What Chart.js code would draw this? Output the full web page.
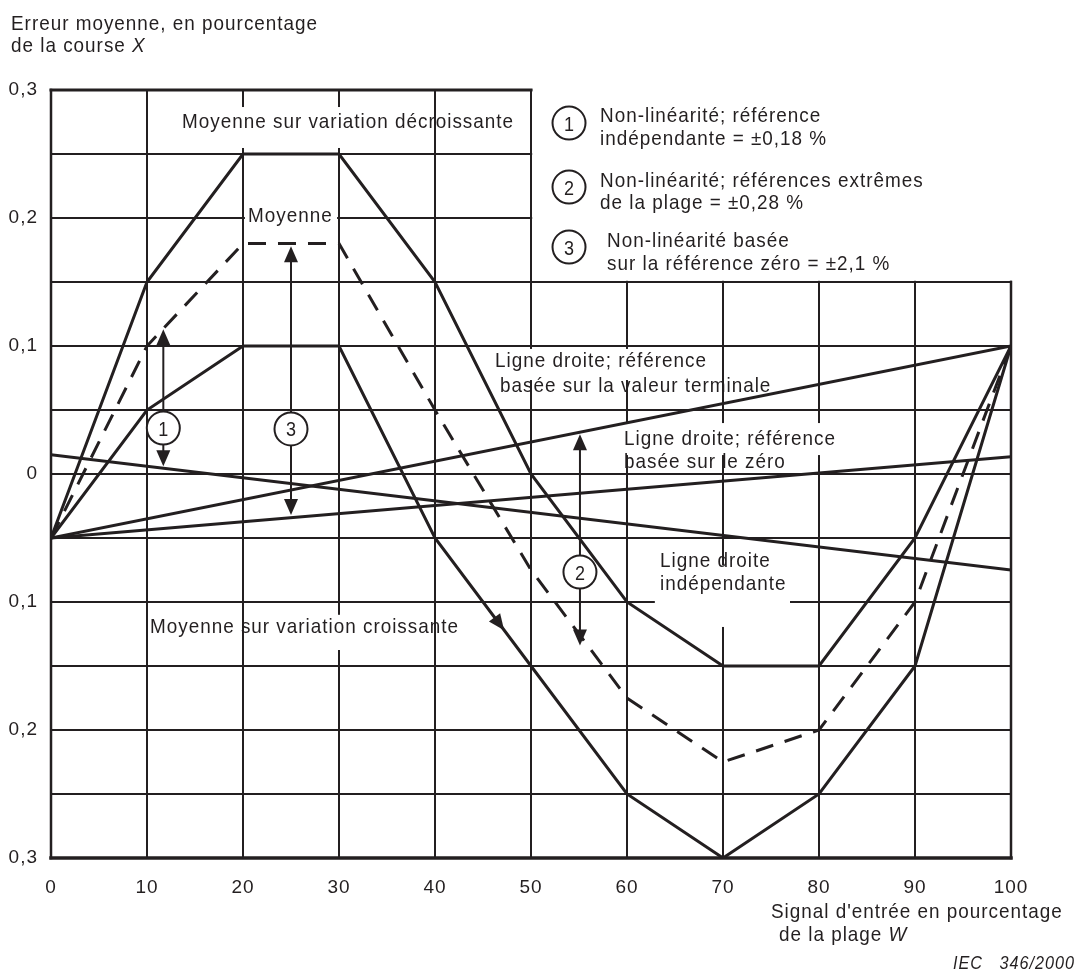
<!DOCTYPE html>
<html><head><meta charset="utf-8">
<script src="https://cdn.jsdelivr.net/npm/chart.js@4.4.1/dist/chart.umd.min.js"></script>
<style>html,body{margin:0;padding:0;background:#fff}canvas{display:block}</style>
</head><body>
<canvas id="c" width="1079" height="979"></canvas>
<script>
// ---- data ----
const xValues = [0, 10, 20, 30, 40, 50, 60, 70, 80, 90, 100];
const decreasing = [-0.05, 0.15, 0.25, 0.25, 0.15, 0, -0.1, -0.15, -0.15, -0.05, 0.1];
const increasing = [-0.05, 0.05, 0.1, 0.1, -0.05, -0.15, -0.25, -0.3, -0.25, -0.15, 0.1];
const mean = [-0.05, 0.1, 0.18, 0.18, 0.05, -0.075, -0.175, -0.225, -0.2, -0.1, 0.1];
const refX = [0, 100];
const terminalRef = [-0.05, 0.1];
const zeroRef = [-0.05, 0.0135];
const independentRef = [0.015, -0.075];
const xTickLabels = ['0', '10', '20', '30', '40', '50', '60', '70', '80', '90', '100'];
const yTickLabels = ['0,3', '', '0,2', '', '0,1', '', '0', '', '0,1', '', '0,2', '', '0,3'];

// ---- styling / annotation config ----
const INK = '#231f20';
const FAM = '"Liberation Sans", Arial, sans-serif';
const fnt = (s, it) => (it ? 'italic ' : '') + s + 'px ' + FAM;
const SX = 0.9;      // horizontal squeeze of annotation text
const TSIZE = 21;    // annotation text size

const pts = (xs, ys) => xs.map((x, i) => ({x: x, y: ys[i]}));

// areas (data units) where the grid is interrupted behind labels: [x0, x1, yTop, yBottom]
const maskBoxes = [
  [12.9, 39.0, 0.2867, 0.2547],
  [20.2, 29.8, 0.2156, 0.1859],
  [45.7, 68.85, 0.0977, 0.0734],
  [59.3, 82.2, 0.0398, 0.0148],
  [62.9, 76.98, -0.0711, -0.1195],
  [25.9, 38.96, -0.110, -0.1375]
];
// in-plot labels: text, x, y (left / baseline, data units)
const plotLabels = [
  ['Moyenne sur variation décroissante', 13.65, 0.2703],
  ['Moyenne', 20.52, 0.1969],
  ['Ligne droite; référence', 46.25, 0.0836],
  ['basée sur la valeur terminale', 46.77, 0.0641],
  ['Ligne droite; référence', 59.69, 0.0227],
  ['basée sur le zéro', 59.69, 0.0047],
  ['Ligne droite', 63.44, -0.0727],
  ['indépendante', 63.44, -0.0906],
  ['Moyenne sur variation croissante', 10.31, -0.1242],
  ['Non-linéarité; référence', 57.19, 0.2752],
  ['indépendante = ±0,18 %', 57.19, 0.2570],
  ['Non-linéarité; références extrêmes', 57.19, 0.2245],
  ['de la plage = ±0,28 %', 57.19, 0.2070],
  ['Non-linéarité basée', 57.92, 0.1776],
  ['sur la référence zéro = ±2,1 %', 57.92, 0.1594]
];
const legendCircles = [['1', 53.96, 0.2742], ['2', 53.96, 0.2242], ['3', 53.96, 0.1773]];
// double arrows: label, x, top tip, bottom tip, circle y
const arrows = [
  ['1', 11.7, 0.113, 0.006, 0.0359],
  ['3', 25.0, 0.178, -0.032, 0.0352],
  ['2', 55.1, 0.031, -0.134, -0.0766]
];
const dirArrowX = 47.2; // arrowhead on the increasing curve

function txt(ctx, s, px, py, size, italic, align) {
  ctx.save();
  ctx.translate(px, py);
  ctx.scale(SX, 1);
  ctx.font = fnt(size, italic);
  ctx.letterSpacing = '1.1px';
  ctx.textAlign = align || 'left';
  ctx.textBaseline = 'alphabetic';
  ctx.fillText(s, 0, 0);
  const w = ctx.measureText(s).width * SX;
  ctx.restore();
  return w;
}
function head(ctx, tx, ty, dx, dy) {
  const L = 16, W = 7;
  const bx = tx - dx * L, by = ty - dy * L;
  ctx.beginPath();
  ctx.moveTo(tx, ty);
  ctx.lineTo(bx - dy * W, by + dx * W);
  ctx.lineTo(bx + dy * W, by - dx * W);
  ctx.closePath();
  ctx.fill();
}
function circleNum(ctx, cx, cy, t) {
  ctx.beginPath();
  ctx.arc(cx, cy, 16.5, 0, Math.PI * 2);
  ctx.fillStyle = '#fff';
  ctx.fill();
  ctx.lineWidth = 2;
  ctx.strokeStyle = INK;
  ctx.stroke();
  ctx.fillStyle = INK;
  txt(ctx, t, cx + 0.5, cy + 7.5, 20, false, 'center');
}

const annot = {
  id: 'annot',
  beforeDraw(chart) { chart.ctx.letterSpacing = '1px'; },
  beforeDatasetsDraw(chart) {
    const {ctx, scales: {x, y}} = chart;
    ctx.save();
    ctx.fillStyle = '#fff';
    const x50 = x.getPixelForValue(50), y15 = y.getPixelForValue(0.15);
    ctx.fillRect(x50 + 1.2, 0, chart.width, y15 - 1.2);
    maskBoxes.forEach(b => {
      const px0 = x.getPixelForValue(b[0]), px1 = x.getPixelForValue(b[1]);
      const py0 = y.getPixelForValue(b[2]), py1 = y.getPixelForValue(b[3]);
      ctx.fillRect(px0, py0, px1 - px0, py1 - py0);
    });
    ctx.strokeStyle = INK;
    const L = x.getPixelForValue(0), R = x.getPixelForValue(100);
    const T = y.getPixelForValue(0.3), B = y.getPixelForValue(-0.3);
    ctx.lineCap = 'square';
    ctx.lineWidth = 3;
    ctx.beginPath(); ctx.moveTo(L, T); ctx.lineTo(x50, T); ctx.stroke();
    ctx.lineWidth = 3.5;
    ctx.beginPath(); ctx.moveTo(L, B); ctx.lineTo(R, B); ctx.stroke();
    ctx.lineWidth = 2.5;
    ctx.beginPath(); ctx.moveTo(L, T); ctx.lineTo(L, B); ctx.stroke();
    ctx.beginPath(); ctx.moveTo(R, y15); ctx.lineTo(R, B); ctx.stroke();
    ctx.restore();
  },
  afterDatasetsDraw(chart) {
    const {ctx, scales: {x, y}} = chart;
    ctx.save();
    ctx.fillStyle = INK;
    ctx.strokeStyle = INK;
    // direction arrowhead on increasing curve (segment 40 -> 50)
    const i0 = 4, i1 = 5;
    const f = (dirArrowX - xValues[i0]) / (xValues[i1] - xValues[i0]);
    const yv = increasing[i0] + f * (increasing[i1] - increasing[i0]);
    const ax0 = x.getPixelForValue(xValues[i0]), ay0 = y.getPixelForValue(increasing[i0]);
    const ax1 = x.getPixelForValue(xValues[i1]), ay1 = y.getPixelForValue(increasing[i1]);
    const len = Math.hypot(ax1 - ax0, ay1 - ay0);
    head(ctx, x.getPixelForValue(dirArrowX), y.getPixelForValue(yv), (ax1 - ax0) / len, (ay1 - ay0) / len);
    // double arrows with circled numbers
    arrows.forEach(a => {
      const px = x.getPixelForValue(a[1]);
      const t = y.getPixelForValue(a[2]), b = y.getPixelForValue(a[3]);
      ctx.lineWidth = 2;
      ctx.strokeStyle = INK;
      ctx.beginPath(); ctx.moveTo(px, t + 8); ctx.lineTo(px, b - 8); ctx.stroke();
      ctx.fillStyle = INK;
      head(ctx, px, t, 0, -1);
      head(ctx, px, b, 0, 1);
      circleNum(ctx, px, y.getPixelForValue(a[4]), a[0]);
    });
    legendCircles.forEach(c => circleNum(ctx, x.getPixelForValue(c[1]), y.getPixelForValue(c[2]), c[0]));
    // labels
    ctx.fillStyle = INK;
    plotLabels.forEach(l => txt(ctx, l[0], x.getPixelForValue(l[1]), y.getPixelForValue(l[2]), TSIZE));
    ctx.restore();
  },
  afterDraw(chart) {
    const ctx = chart.ctx;
    ctx.save();
    ctx.fillStyle = INK;
    const seg = (parts, px, py) => {
      let cx = px;
      parts.forEach(p => { cx += txt(ctx, p[0], cx, py, TSIZE, p[1]); });
    };
    seg([['Erreur moyenne, en pourcentage']], 11, 30);
    seg([['de la course '], ['X', true]], 11, 52);
    seg([['Signal d\'entrée en pourcentage']], 771, 918);
    seg([['de la plage '], ['W', true]], 779, 941);
    txt(ctx, 'IEC   346/2000', 1075, 969, 18, true, 'right');
    ctx.restore();
  }
};

const lineDs = (data, extra) => Object.assign({
  data: data, borderColor: INK, borderWidth: 3, pointRadius: 0, tension: 0,
  fill: false, borderJoinStyle: 'miter', borderCapStyle: 'butt'
}, extra || {});

new Chart(document.getElementById('c'), {
  type: 'line',
  data: {
    datasets: [
      lineDs(pts(xValues, decreasing)),
      lineDs(pts(xValues, increasing)),
      lineDs(pts(xValues, mean), {borderDash: [18, 12]}),
      lineDs(pts(refX, terminalRef)),
      lineDs(pts(refX, zeroRef)),
      lineDs(pts(refX, independentRef))
    ]
  },
  options: {
    responsive: false,
    animation: false,
    events: [],
    layout: {padding: {top: 90, right: 68, bottom: 0, left: 0}},
    plugins: {legend: {display: false}, tooltip: {enabled: false}, title: {display: false}},
    scales: {
      x: {
        type: 'linear', min: 0, max: 100,
        border: {display: false},
        grid: {color: INK, lineWidth: 2, drawTicks: false},
        ticks: {
          stepSize: 10, padding: 18, color: INK, maxRotation: 0,
          font: {family: FAM, size: 19},
          callback: (v, i) => xTickLabels[i]
        },
        afterFit: s => { s.height = 121; }
      },
      y: {
        type: 'linear', min: -0.3, max: 0.3,
        border: {display: false},
        grid: {color: INK, lineWidth: 2, drawTicks: false},
        ticks: {
          stepSize: 0.05, padding: 13, color: INK, autoSkip: false,
          font: {family: FAM, size: 19},
          callback: (v, i) => yTickLabels[i]
        },
        afterFit: s => { s.width = 51; }
      }
    }
  },
  plugins: [annot]
});
</script>
</body></html>
